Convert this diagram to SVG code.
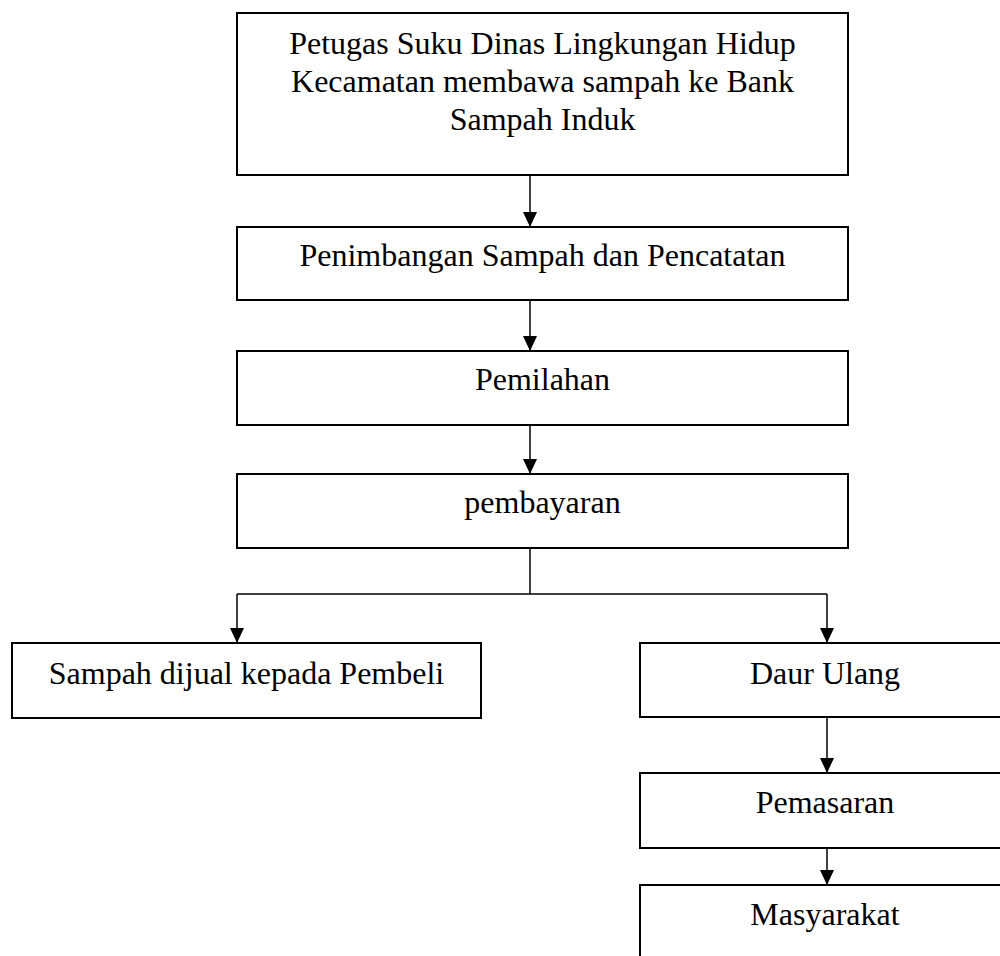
<svg xmlns="http://www.w3.org/2000/svg" width="1000" height="956" viewBox="0 0 1000 956">
<style>
.box{fill:#fff;stroke:#000;stroke-width:2}
.t{font-family:"Liberation Serif","Times New Roman",serif;font-size:32px;fill:#000;text-anchor:middle}
.c{fill:none;stroke:#000;stroke-width:1.5}
</style>
<defs>
<marker id="ah" markerUnits="userSpaceOnUse" markerWidth="16" markerHeight="16" viewBox="0 0 16 16" refX="15" refY="8" orient="auto">
<path d="M0,1 L15,8 L0,15 Z" fill="#000"/>
</marker>
</defs>
<rect width="1000" height="956" fill="#fff"/>
<g id="connectors">
<line class="c" x1="530" y1="175" x2="530" y2="227" marker-end="url(#ah)"/>
<line class="c" x1="530" y1="300" x2="530" y2="351" marker-end="url(#ah)"/>
<line class="c" x1="530" y1="425" x2="530" y2="474" marker-end="url(#ah)"/>
<polyline class="c" points="530,548 530,594"/>
<polyline class="c" points="237,594 827,594"/>
<line class="c" x1="237" y1="594" x2="237" y2="643" marker-end="url(#ah)"/>
<line class="c" x1="827" y1="594" x2="827" y2="643" marker-end="url(#ah)"/>
<line class="c" x1="827" y1="717" x2="827" y2="773" marker-end="url(#ah)"/>
<line class="c" x1="827" y1="848" x2="827" y2="885" marker-end="url(#ah)"/>
</g>
<g id="n1">
<rect class="box" x="237" y="13" width="611" height="162"/>
<text class="t" x="542.5" y="54">Petugas Suku Dinas Lingkungan Hidup</text>
<text class="t" x="542.5" y="92">Kecamatan membawa sampah ke Bank</text>
<text class="t" x="542.5" y="130">Sampah Induk</text>
</g>
<g id="n2">
<rect class="box" x="237" y="227" width="611" height="73"/>
<text class="t" x="542.5" y="266">Penimbangan Sampah dan Pencatatan</text>
</g>
<g id="n3">
<rect class="box" x="237" y="351" width="611" height="74"/>
<text class="t" x="542.5" y="390">Pemilahan</text>
</g>
<g id="n4">
<rect class="box" x="237" y="474" width="611" height="74"/>
<text class="t" x="542.5" y="513">pembayaran</text>
</g>
<g id="n5">
<rect class="box" x="12" y="643" width="469" height="75"/>
<text class="t" x="246.5" y="684">Sampah dijual kepada Pembeli</text>
</g>
<g id="n6">
<rect class="box" x="640" y="643" width="380" height="74"/>
<text class="t" x="825" y="684">Daur Ulang</text>
</g>
<g id="n7">
<rect class="box" x="640" y="773" width="380" height="75"/>
<text class="t" x="825" y="813">Pemasaran</text>
</g>
<g id="n8">
<rect class="box" x="640" y="885" width="380" height="100"/>
<text class="t" x="825" y="925">Masyarakat</text>
</g>
</svg>
